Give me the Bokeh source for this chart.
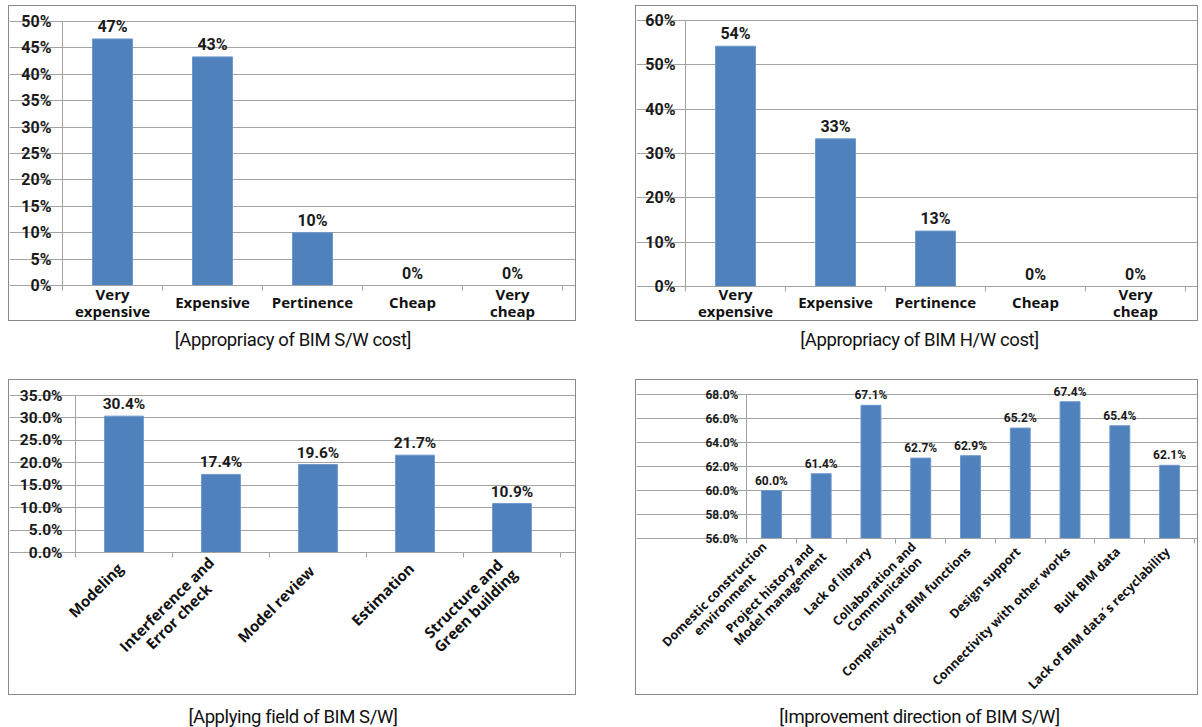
import math
from bokeh.plotting import figure
from bokeh.models import Range1d, FixedTicker, ColumnDataSource, Div, Spacer
from bokeh.layouts import row, column
from bokeh.embed import file_html
from bokeh.resources import INLINE
from bokeh.core.properties import value

# ---------------- data ----------------
sw_cost_cats = ["Very\nexpensive", "Expensive", "Pertinence", "Cheap", "Very\ncheap"]
sw_cost_vals = [46.7, 43.3, 10.0, 0.0, 0.0]
sw_cost_ticks = [0, 5, 10, 15, 20, 25, 30, 35, 40, 45, 50]

hw_cost_cats = ["Very\nexpensive", "Expensive", "Pertinence", "Cheap", "Very\ncheap"]
hw_cost_vals = [54.2, 33.3, 12.5, 0.0, 0.0]
hw_cost_ticks = [0, 10, 20, 30, 40, 50, 60]

field_cats = ["Modeling", "Interference and\nError check", "Model  review",
              "Estimation", "Structure and\nGreen building"]
field_vals = [30.4, 17.4, 19.6, 21.7, 10.9]
field_ticks = [0, 5, 10, 15, 20, 25, 30, 35]

impr_cats = ["Domestic construction\nenvironment", "Project history and\nModel management",
             "Lack of library", "Collaboration and\nCommunication",
             "Complexity of BIM functions", "Design support",
             "Connectivity with other works", "Bulk BIM data",
             "Lack of BIM data\u00b4s recyclability"]
impr_vals = [60.0, 61.4, 67.1, 62.7, 62.9, 65.2, 67.4, 65.4, 62.1]
impr_ticks = [56, 58, 60, 62, 64, 66, 68]

captions = ["[Appropriacy of BIM S/W cost]", "[Appropriacy of BIM H/W cost]",
            "[Applying field of BIM S/W]", "[Improvement direction of BIM S/W]"]

# ---------------- styling ----------------
BAR = "#4f81bd"
GRID = "#a3a3a3"
NUMFONT = "Roboto"
CATFONT = "Open Sans"
BORDER = {"border": "1px solid #8a8a8a"}


def half_up(v):
    return int(v + 0.5)


def panel(cats, vals, ticks, w, h, ax_px, end_px, hi_px, lo_px, tick_fmt, lab_fmt,
          num_size, cat_size, val_size, standoff, rotated=False, cat_dx=0, cat_dy=18,
          cat_lh=0.85):
    """The frame fills the whole canvas; scales are set so that the plot area
    (0..n, lo..hi) lands on the given canvas pixels, and the axes are pinned to
    the plot-area edges with fixed_location."""
    n = len(cats)
    xs = [i + 0.5 for i in range(n)]
    lo, hi = ticks[0], ticks[-1]
    kx = (end_px - ax_px) / n
    ky = (lo_px - hi_px) / (hi - lo)
    xr = Range1d(-ax_px / kx, n + (w - end_px) / kx)
    yr = Range1d(lo - (h - lo_px) / ky, hi + hi_px / ky)
    p = figure(width=w, height=h, output_backend="svg", toolbar_location=None,
               x_range=xr, y_range=yr,
               min_border_left=0, min_border_right=0,
               min_border_top=0, min_border_bottom=0,
               background_fill_color="white", border_fill_color="white")
    p.outline_line_color = None
    p.styles = BORDER

    src = ColumnDataSource(dict(x=xs, top=vals, lab=[lab_fmt(v) for v in vals]))
    p.vbar(x="x", top="top", bottom=lo, width=0.4, source=src,
           fill_color=BAR, line_color="#6d98cc", line_width=1)
    p.text(x="x", y="top", text="lab", source=src, text_align="center",
           text_baseline="bottom", y_offset=-3, text_font=value(NUMFONT),
           text_font_style="bold", text_font_size=val_size, text_color="#1a1a1a")

    # y axis pinned at x = 0
    yax = p.yaxis[0]
    yax.fixed_location = 0
    yax.bounds = (lo, hi)
    yax.ticker = FixedTicker(ticks=ticks)
    yax.major_label_overrides = {t: tick_fmt(t) for t in ticks}
    yax.axis_line_color = GRID
    yax.major_tick_line_color = GRID
    yax.major_tick_out = 5
    yax.major_tick_in = 0
    yax.minor_tick_line_color = None
    yax.major_label_standoff = standoff
    yax.major_label_text_font = NUMFONT
    yax.major_label_text_font_style = "bold"
    yax.major_label_text_font_size = num_size
    yax.major_label_text_color = "#1a1a1a"
    p.ygrid.ticker = FixedTicker(ticks=ticks)
    p.ygrid.grid_line_color = GRID
    p.ygrid.bounds = (0, n)
    p.xgrid.visible = False

    # x axis pinned at the base value, ticks at category boundaries
    xax = p.xaxis[0]
    xax.fixed_location = lo
    xax.bounds = (0, n)
    xax.ticker = FixedTicker(ticks=xs, minor_ticks=list(range(n + 1)))
    xax.major_label_overrides = {x: "" for x in xs}
    xax.major_label_text_font_size = "0px"
    xax.major_label_standoff = 0
    xax.axis_line_color = GRID
    xax.major_tick_out = 0
    xax.major_tick_in = 0
    xax.minor_tick_out = 5
    xax.minor_tick_in = 0
    xax.minor_tick_line_color = GRID

    csrc = ColumnDataSource(dict(x=xs, y=[lo] * n, name=cats))
    if rotated:
        p.text(x="x", y="y", text="name", source=csrc, x_offset=cat_dx, y_offset=cat_dy,
               angle=math.pi / 4, anchor=value("center_right"), text_align="center",
               text_font=value(CATFONT), text_font_style="bold",
               text_font_size=cat_size, text_color="#111111", text_line_height=cat_lh)
    else:
        p.text(x="x", y="y", text="name", source=csrc, y_offset=cat_dy,
               anchor=value("center"), text_align="center",
               text_font=value(CATFONT), text_font_style="bold",
               text_font_size=cat_size, text_color="#111111", text_line_height=cat_lh)
    return p


p1 = panel(sw_cost_cats, sw_cost_vals, sw_cost_ticks, 568, 316, 53, 553, 15, 279,
           lambda t: f"{t}%", lambda v: f"{half_up(v)}%", "16px", "15px", "16px", 6,
           cat_dy=16.5)
p2 = panel(hw_cost_cats, hw_cost_vals, hw_cost_ticks, 563, 316, 49, 549, 14, 280,
           lambda t: f"{t}%", lambda v: f"{half_up(v)}%", "16px", "15px", "16px", 5,
           cat_dy=15.5)
p3 = panel(field_cats, field_vals, field_ticks, 568, 316, 66, 551, 15, 172,
           lambda t: f"{t:.1f}%", lambda v: f"{v:.1f}%", "15.5px", "15px", "15.5px", 8,
           rotated=True, cat_dx=-4, cat_dy=13)
p4 = panel(impr_cats, impr_vals, impr_ticks, 563, 316, 110, 558, 14, 158,
           lambda t: f"{t:.1f}%", lambda v: f"{v:.1f}%", "12px", "12.5px", "12px", 3,
           rotated=True, cat_dx=-2, cat_dy=11)


def cap(text, w, h):
    return Div(text=text, width=w, height=h, margin=0,
               styles={"font-family": "Roboto", "font-size": "18.5px",
                       "letter-spacing": "-0.4px", "text-align": "center",
                       "color": "#111111", "line-height": "18px"})


layout = column(
    Spacer(height=5, width=1200),
    row(Spacer(width=8, height=318), p1, Spacer(width=59, height=318), p2),
    Spacer(height=8, width=1200),
    row(Spacer(width=8, height=48), cap(captions[0], 570, 48), Spacer(width=59, height=48),
        cap(captions[1], 565, 48)),
    row(Spacer(width=8, height=318), p3, Spacer(width=59, height=318), p4),
    Spacer(height=11, width=1200),
    row(Spacer(width=8, height=19), cap(captions[2], 570, 19), Spacer(width=59, height=19),
        cap(captions[3], 565, 19)),
)

open("out.html", "w").write(file_html(layout, INLINE))
